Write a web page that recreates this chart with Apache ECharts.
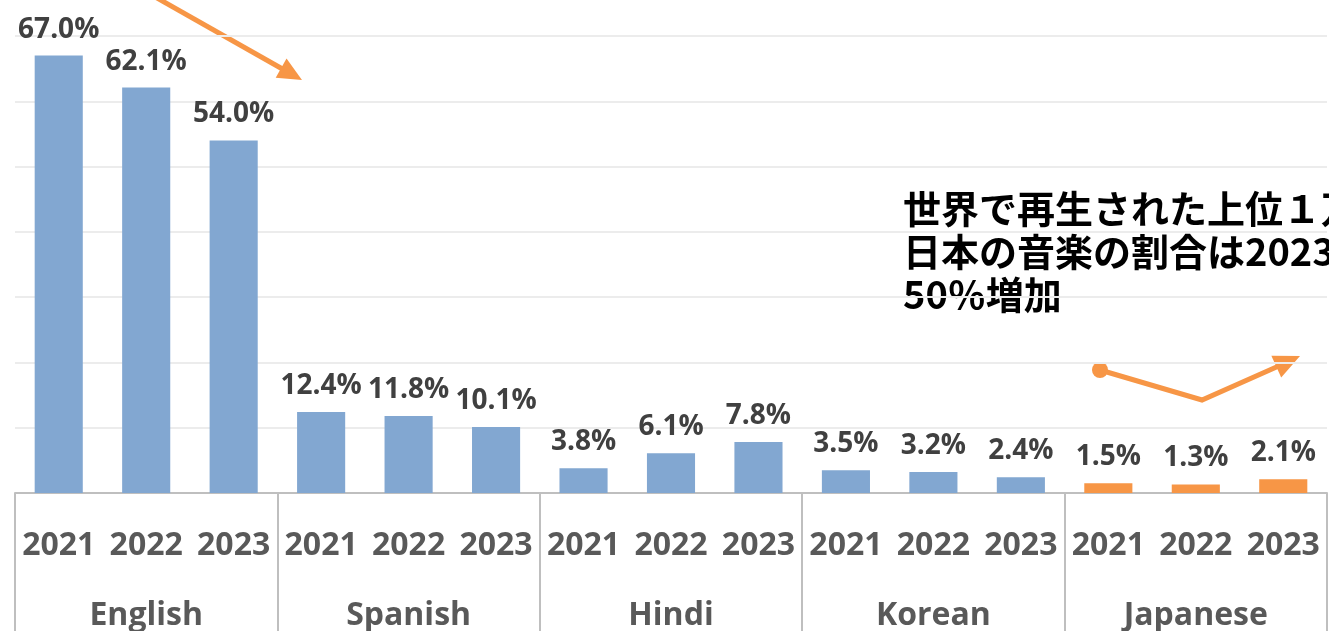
<!DOCTYPE html>
<html>
<head>
<meta charset="utf-8">
<script src="https://cdn.jsdelivr.net/npm/echarts@6/dist/echarts.min.js"></script>
<style>
  html, body { margin: 0; padding: 0; background: #fff; }
  #main { width: 1329px; height: 631px; }
</style>
</head>
<body>
<div id="main"></div>
<script>
// 言語ごとのシェア (%)
var languages = ['English', 'Spanish', 'Hindi', 'Korean', 'Japanese'];
var years = ['2021', '2022', '2023'];
var shareEnglish = [67.0, 62.1, 54.0];
var shareSpanish = [12.4, 11.8, 10.1];
var shareHindi = [3.8, 6.1, 7.8];
var shareKorean = [3.5, 3.2, 2.4];
var shareJapanese = [1.5, 1.3, 2.1];
var noteText = '世界で再生された上位１万曲のうち\n日本の音楽の割合は2023年に\n50％増加';

var shares = [shareEnglish, shareSpanish, shareHindi, shareKorean, shareJapanese];
var yearLabels = [];
var barData = [];
for (var i = 0; i < languages.length; i++) {
	for (var j = 0; j < years.length; j++) {
		yearLabels.push(years[j]);
		barData.push({ value: shares[i][j], lang: languages[i] });
	}
}

var BLUE = '#82a7d1';
var ORANGE = '#f79646';
var FONT = '"Open Sans", "Noto Sans", sans-serif';

// 矢印の頭を作る
function arrowHead(x0, y0, x1, y1, len, half) {
	var dx = x1 - x0, dy = y1 - y0;
	var d = Math.sqrt(dx * dx + dy * dy);
	var ux = dx / d, uy = dy / d;
	var bx = x1 - ux * len, by = y1 - uy * len;
	return [[x1, y1], [bx - uy * half, by + ux * half], [bx + uy * half, by - ux * half]];
}

var myChart = echarts.init(document.getElementById('main'));
var option = {
	animation: false,
	grid: { left: 15, right: 2, top: 36, bottom: 138, outerBoundsMode: 'none', containLabel: false },
	xAxis: [
		{
			type: 'category',
			data: yearLabels,
			position: 'bottom',
			axisLine: { show: true, lineStyle: { color: '#bfbfbf', width: 2 } },
			axisTick: { show: false },
			axisLabel: {
				interval: 0,
				margin: 37,
				color: '#595959',
				fontFamily: FONT,
				fontWeight: 'bold',
				fontSize: 32
			}
		},
		{
			type: 'category',
			data: languages,
			position: 'bottom',
			offset: 0,
			axisLine: { show: false },
			axisTick: {
				show: true,
				interval: 0,
				length: 140,
				lineStyle: { color: '#bfbfbf', width: 2 }
			},
			axisLabel: {
				interval: 0,
				margin: 107,
				color: '#595959',
				fontFamily: FONT,
				fontWeight: 'bold',
				fontSize: 32
			}
		}
	],
	yAxis: {
		type: 'value',
		min: 0,
		max: 70,
		interval: 10,
		axisLine: { show: false },
		axisTick: { show: false },
		axisLabel: { show: false },
		splitLine: { lineStyle: { color: '#ececec', width: 2 } }
	},
	series: [
		{
			type: 'bar',
			xAxisIndex: 0,
			barWidth: '55%',
			data: barData,
			itemStyle: {
				color: function (p) {
					return p.data.lang === 'Japanese' ? ORANGE : BLUE;
				}
			},
			label: {
				show: true,
				position: 'top',
				distance: 12,
				color: '#404040',
				fontFamily: FONT,
				fontWeight: 'bold',
				fontSize: 28,
				formatter: function (p) {
					return p.value.toFixed(1) + '%';
				}
			}
		}
	],
	graphic: [
		// 英語の下降矢印
		{
			type: 'polyline',
			shape: { points: [[150, -6], [286, 71]] },
			style: { stroke: ORANGE, lineWidth: 5, fill: null }
		},
		{
			type: 'polygon',
			shape: { points: arrowHead(150, -6, 302, 80, 24, 11) },
			style: { fill: ORANGE }
		},
		// 日本語の推移
		{
			type: 'circle',
			shape: { cx: 1100, cy: 370, r: 8 },
			style: { fill: ORANGE }
		},
		{
			type: 'polyline',
			shape: { points: [[1100, 370], [1202, 400], [1281, 365]] },
			style: { stroke: ORANGE, lineWidth: 5, fill: null, lineJoin: 'miter' }
		},
		{
			type: 'polygon',
			shape: { points: arrowHead(1202, 400, 1300, 356, 26, 12) },
			style: { fill: ORANGE }
		},
		{
			type: 'text',
			x: 903,
			y: 187,
			style: {
				text: noteText,
				fill: '#000',
				font: 'bold 38px "Noto Sans CJK JP"',
				lineHeight: 43
			}
		}
	]
};
myChart.setOption(option);
</script>
</body>
</html>
